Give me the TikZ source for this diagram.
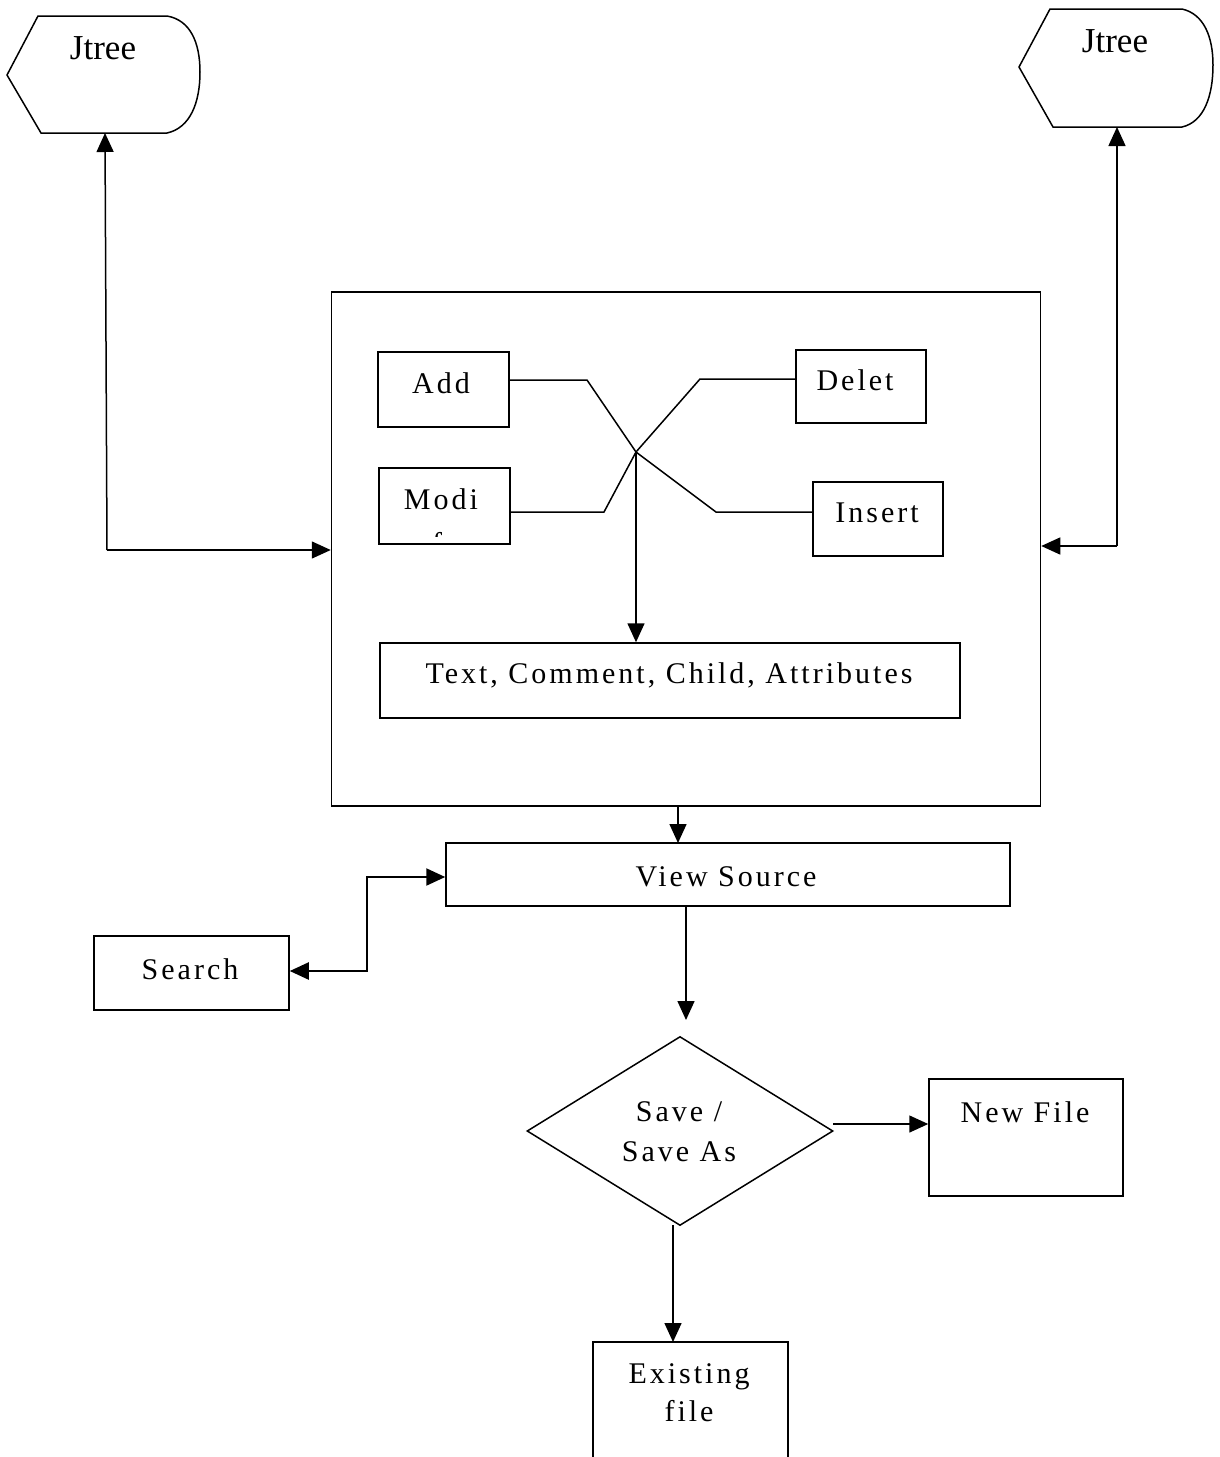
\documentclass[tikz,border=0pt]{standalone}
\usepackage{fontspec}
\setmainfont{Liberation Serif}
\newfontfamily\spaced[LetterSpace=10]{Liberation Serif}
\usetikzlibrary{arrows.meta,shapes.geometric}
\begin{document}
\begin{tikzpicture}[x=1pt,y=-1pt,
  line width=1.5pt,
  box/.style={draw, line width=1.5pt, rectangle, inner sep=0pt},
  lbl/.style={font=\fontsize{30}{34}\selectfont\spaced, inner sep=0pt},
  tag/.style={font=\fontsize{35}{38}\selectfont, inner sep=0pt},
  arr/.style={-{Triangle[length=19pt,width=17pt]}, line width=1.5pt},
  darr/.style={{Triangle[length=19pt,width=17pt]}-{Triangle[length=19pt,width=17pt]}, line width=2.2pt},
  wire/.style={line width=1.5pt}]
\useasboundingbox (0,0) rectangle (1219,1457);
\fill[white] (0,0) rectangle (1219,1457);

% Jtree display shapes
\draw[line width=1.5pt] (38,16) -- (167,16) .. controls (190,20) and (200,42) .. (200,72)
  .. controls (200,103) and (190,128) .. (167,133) -- (41,133) -- (7,75) -- cycle;
\coordinate (jl) at (105,133);
\node[tag] (jltxt) at (103,48) {Jtree};
\draw[line width=1.5pt] (1050,9) -- (1182,9) .. controls (1204,14) and (1213,37) .. (1213,65)
  .. controls (1213,96) and (1204,122) .. (1182,127) -- (1053,127) -- (1019,67) -- cycle;
\coordinate (jr) at (1117,127);
\node[tag] (jrtxt) at (1115,41) {Jtree};

% editing panel
\node[box, minimum width=709pt, minimum height=514pt] (panel) at (686,549) {};
\node[box, minimum width=131pt, minimum height=75pt] (add) at (443.5,389.5) {};
\node[lbl] (addtxt) at (441,383) {Add};
\node[box, minimum width=130pt, minimum height=73pt] (del) at (861,386.5) {};
\node[lbl] (deltxt) at (855,380) {Delet};
\node[box, minimum width=131pt, minimum height=76pt] (mod) at (444.5,506) {};
\node[lbl] (modtxt) at (441,499) {Modi};
\begin{scope}
  \clip (380,469) rectangle (509,536);
  \node[lbl] (modtail) at (437,543) {f};
\end{scope}
\node[box, minimum width=130pt, minimum height=74pt] (ins) at (878,519) {};
\node[lbl] (instxt) at (877,513) {Insert};
\node[box, minimum width=580pt, minimum height=75pt] (items) at (670,680.5) {};
\node[lbl] (itemstxt) at (669,675) {Text, Comment, Child, Attributes};

% crossing wires inside the panel
\coordinate (x) at (636,452);
\draw[wire] (add.east |- 0,380) -- (587,380) -- (x) -- (716,512) -- (ins.west |- 0,512);
\draw[wire] (del.west |- 0,379) -- (700,379) -- (x) -- (604,512) -- (mod.east |- 0,512);
\draw[arr] (x) -- (x |- items.north);

% links to the Jtree displays
\coordinate (lc) at (107,550);
\draw[arr] (lc) -- (jl);
\draw[arr] (lc) -- (panel.west |- lc);
\coordinate (rc) at (1117,546);
\draw[arr] (rc) -- (jr);
\draw[arr] (rc) -- (panel.east |- rc);

% view source and search
\node[box, minimum width=564pt, minimum height=63pt] (view) at (728,874.5) {};
\node[lbl] (viewtxt) at (726,877) {View Source};
\draw[arr] (678,806) -- (678,843);
\node[box, minimum width=195pt, minimum height=74pt] (search) at (191.5,973) {};
\node[lbl] (searchtxt) at (190,969) {Search};
\draw[darr] (search.east |- 0,971) -- (367,971) -- (367,877) -- (view.west |- 0,877);

% save decision
\node[draw, diamond, line width=1.5pt, minimum width=306pt, minimum height=189pt, inner sep=0pt] (save) at (680,1131) {};
\node[lbl, align=center] (savetxt) at (679,1132) {Save /\\[6pt]Save As};
\coordinate (vs) at (686,906);
\draw[arr] (vs) -- (686,1020);

\node[box, minimum width=194pt, minimum height=117pt] (newf) at (1026,1137.5) {};
\node[lbl] (newtxt) at (1025,1112) {New File};
\draw[arr] (833,1124) -- (newf.west |- 0,1124);

\draw[line width=1.5pt] (593,1470) -- (593,1342) -- (788,1342) -- (788,1470);
\coordinate (exist) at (673,1342);
\node[lbl, align=center] (existtxt) at (689,1393) {Existing\\[4pt]file};
\draw[arr] (673,1225) -- (exist);
\end{tikzpicture}
\end{document}
